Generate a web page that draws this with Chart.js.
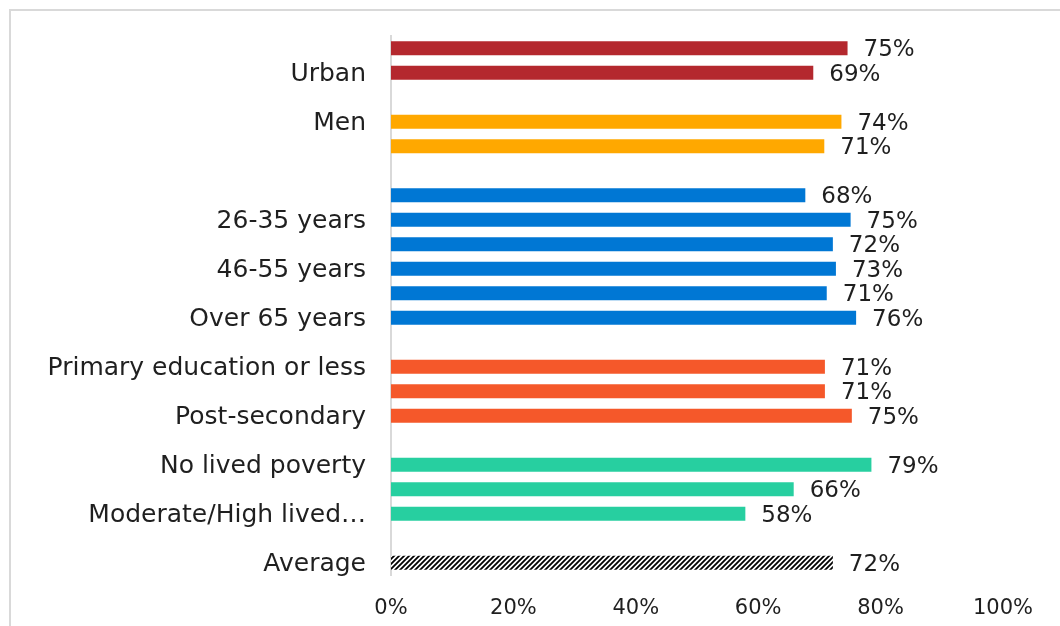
<!DOCTYPE html>
<html>
<head>
<meta charset="utf-8">
<script src="https://cdn.jsdelivr.net/npm/chart.js@4"></script>
<style>
  html, body { margin: 0; padding: 0; background: #ffffff; overflow: hidden; }
  #wrap { position: relative; width: 1060px; height: 626px; }
</style>
</head>
<body>
<div id="wrap"><canvas id="c" width="1060" height="626"></canvas></div>
<script>
// ---- Data ----
const categories = ["Rural", "Urban", "", "Men", "Women", "",
  "18-25 years", "26-35 years", "36-45 years", "46-55 years", "56-65 years", "Over 65 years", "",
  "Primary education or less", "Secondary", "Post-secondary", "",
  "No lived poverty", "Low lived poverty", "Moderate/High lived poverty", "",
  "Average"];
const tickLabels = ["", "Urban", "", "Men", "", "",
  "", "26-35 years", "", "46-55 years", "", "Over 65 years", "",
  "Primary education or less", "", "Post-secondary", "",
  "No lived poverty", "", "Moderate/High lived\u2026", "",
  "Average"];
const values = [74.6, 69.0, null, 73.6, 70.8, null,
  67.7, 75.1, 72.2, 72.7, 71.2, 76.0, null,
  70.9, 70.9, 75.3, null,
  78.5, 65.8, 57.9, null,
  72.2];
const groups = ["loc", "loc", "", "sex", "sex", "",
  "age", "age", "age", "age", "age", "age", "",
  "edu", "edu", "edu", "",
  "pov", "pov", "pov", "",
  "avg"];
const xTicks = [0, 20, 40, 60, 80, 100];

// ---- Styles ----
const groupColors = { loc: "#B4282E", sex: "#FFA800", age: "#0077D4", edu: "#F5582A", pov: "#27CFA0" };
function hatch() {
  const s = 5;
  const p = document.createElement("canvas");
  p.width = s; p.height = s;
  const g = p.getContext("2d");
  g.fillStyle = "#ffffff"; g.fillRect(0, 0, s, s);
  g.strokeStyle = "#000000"; g.lineWidth = 1.8;
  g.beginPath();
  g.moveTo(-1, s + 1); g.lineTo(s + 1, -1);
  g.moveTo(-1, 1); g.lineTo(1, -1);
  g.moveTo(s - 1, s + 1); g.lineTo(s + 1, s - 1);
  g.stroke();
  return document.getElementById("c").getContext("2d").createPattern(p, "repeat");
}
const pattern = hatch();
const bg = groups.map(g => g === "avg" ? pattern : (groupColors[g] || "#000"));

const FONT = "'DejaVu Sans', sans-serif";
const TEXT = "#1f1f1f";

const frame = {
  id: "frame",
  beforeDraw(chart) {
    const ctx = chart.ctx;
    ctx.save();
    ctx.strokeStyle = "#D9D9D9";
    ctx.lineWidth = 2;
    ctx.strokeRect(10, 10, 1100, 700);
    ctx.restore();
  }
};
const dataLabels = {
  id: "dataLabels",
  afterDatasetsDraw(chart) {
    const ctx = chart.ctx;
    const meta = chart.getDatasetMeta(0);
    ctx.save();
    ctx.font = "23px " + FONT;
    ctx.fillStyle = TEXT;
    ctx.textAlign = "left";
    ctx.textBaseline = "middle";
    meta.data.forEach((el, i) => {
      const v = values[i];
      if (v === null || v === undefined) return;
      ctx.fillText(Math.round(v) + "%", el.x + 16, el.y + 2);
    });
    ctx.restore();
  }
};

new Chart(document.getElementById("c"), {
  type: "bar",
  data: {
    labels: categories,
    datasets: [{
      data: values,
      backgroundColor: bg,
      borderWidth: 0,
      barPercentage: 0.57,
      categoryPercentage: 1.0
    }]
  },
  options: {
    indexAxis: "y",
    responsive: false,
    animation: false,
    layout: { padding: { left: 0, right: 57, top: 36, bottom: 0 } },
    plugins: { legend: { display: false }, tooltip: { enabled: false } },
    scales: {
      y: {
        grid: { display: false, drawTicks: false },
        border: { display: true, color: "#D9D9D9", width: 2 },
        ticks: {
          autoSkip: false,
          padding: 25,
          labelOffset: 2,
          color: TEXT,
          font: { family: FONT, size: 25, lineHeight: 0.5 },
          callback: (v, i) => tickLabels[i]
        },
        afterFit(scale) { scale.width = 391; }
      },
      x: {
        min: 0, max: 100,
        afterBuildTicks(scale) { scale.ticks = xTicks.map(v => ({ value: v })); },
        grid: { display: false, drawTicks: false },
        border: { display: false },
        ticks: {
          padding: 21,
          color: TEXT,
          font: { family: FONT, size: 21 },
          callback: v => v + "%"
        },
        afterFit(scale) { scale.height = 51; }
      }
    }
  },
  plugins: [frame, dataLabels]
});
</script>
</body>
</html>
